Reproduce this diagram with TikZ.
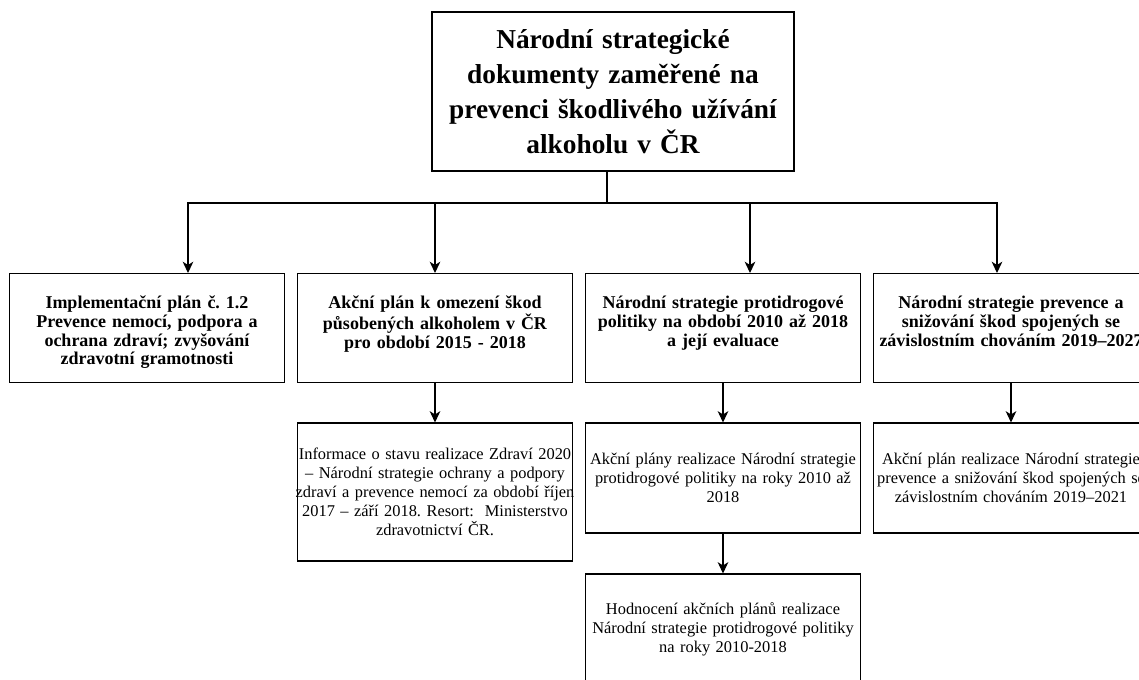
\documentclass[tikz,border=0pt]{standalone}
\usepackage{fontspec}
\setmainfont{Liberation Serif}
\usetikzlibrary{arrows.meta}
\tikzset{
  goalbox/.style={draw, align=center, text width=262pt, inner sep=0pt, minimum width=271.5pt, minimum height=119.25pt,
    font=\fontsize{20.5}{26.25}\selectfont\bfseries},
  lvlbox/.style={draw, anchor=north, align=center, text width=214pt, inner xsep=-4pt, inner ysep=0pt,
    text height=26.25pt, text depth=55.5pt, font=\fontsize{13.5}{14.1}\selectfont\bfseries},
  docbox/.style={draw, align=center, text width=214pt, inner xsep=-4pt, minimum height=82.5pt,
    font=\fontsize{12.3}{14.25}\selectfont}
}
\begin{document}
\frenchspacing
\begin{tikzpicture}[x=0.75pt, y=-0.75pt, line width=0.8pt, >={Stealth[length=8.5pt, width=8pt, inset=2.5pt]}]
  \useasboundingbox (0,0) rectangle (1139,679);
  \clip (0,0) rectangle (1139,679);

  \node[goalbox] (goal) at (613,91.5)
    {Národní strategické\\ dokumenty zaměřené na\\ prevenci škodlivého užívání\\ alkoholu v ČR};

  \node[lvlbox] (imp) at (147,273)
    {Implementační plán č. 1.2\\ Prevence nemocí, podpora a\\ ochrana zdraví; zvyšování\\ zdravotní gramotnosti};
  \node[lvlbox] (akce) at (435,273)
    {Akční plán k omezení škod\\ působených alkoholem v ČR\\ pro období 2015 - 2018};
  \node[lvlbox] (nsp) at (723,273)
    {Národní strategie protidrogové\\ politiky na období 2010 až 2018\\ a její evaluace};
  \node[lvlbox] (nsz) at (1011,273)
    {Národní strategie prevence a\\ snižování škod spojených se\\ závislostním chováním 2019–2027};

  \node[docbox, minimum height=103.5pt] (info) at (435,492)
    {Informace o stavu realizace Zdraví 2020\\ – Národní strategie ochrany a podpory\\ zdraví a prevence nemocí za období říjen\\ 2017 – září 2018. Resort:~ Ministerstvo\\ zdravotnictví ČR.};
  \node[docbox] (apl) at (723,478)
    {Akční plány realizace Národní strategie\\ protidrogové politiky na roky 2010 až\\ 2018};
  \node[docbox] (hod) at (723,629)
    {Hodnocení akčních plánů realizace\\ Národní strategie protidrogové politiky\\ na roky 2010-2018};
  \node[docbox] (apz) at (1011,478)
    {Akční plán realizace Národní strategie\\ prevence a snižování škod spojených se\\ závislostním chováním 2019–2021};

  \coordinate (fork) at (607,203);
  \draw (goal.south -| fork) -- (fork);
  \draw[->] (fork) -| ([xshift=30.75pt]imp.north);
  \draw[->] (fork) -| (akce.north);
  \draw[->] (fork) -| ([xshift=20.25pt]nsp.north);
  \draw[->] (fork) -| ([xshift=-10.5pt]nsz.north);
  \draw[->] (akce) -- (info);
  \draw[->] (nsp) -- (apl);
  \draw[->] (apl) -- (hod);
  \draw[->] (nsz) -- (apz);
\end{tikzpicture}
\end{document}
